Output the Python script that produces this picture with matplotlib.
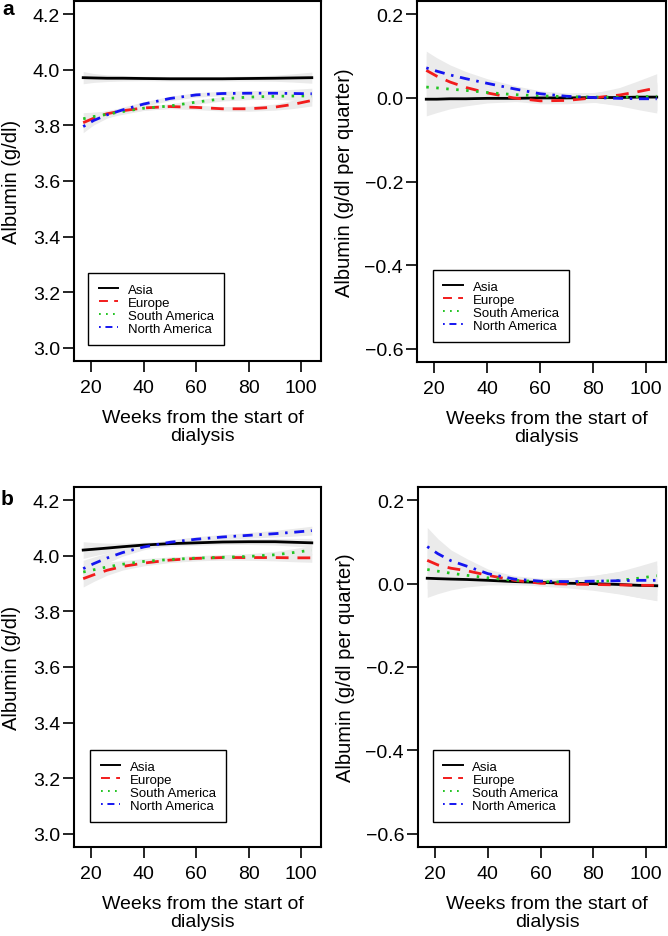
import numpy as np
import matplotlib
matplotlib.use("Agg")
import matplotlib.pyplot as plt
from matplotlib.lines import Line2D

plt.rcParams['font.family'] = ['Liberation Sans', 'DejaVu Sans']

weeks = [17, 21, 26, 32, 40, 50, 60, 70, 80, 90, 97, 104]
regions = ["Asia", "Europe", "South America", "North America"]

# panel a, albumin level (g/dl)
a_level_asia = [3.972, 3.971, 3.970, 3.970, 3.969, 3.968, 3.968, 3.968, 3.969, 3.970, 3.971, 3.972]
a_level_europe = [3.810, 3.826, 3.842, 3.853, 3.863, 3.868, 3.865, 3.860, 3.860, 3.866, 3.876, 3.890]
a_level_samerica = [3.824, 3.832, 3.840, 3.850, 3.862, 3.870, 3.884, 3.896, 3.902, 3.905, 3.906, 3.906]
a_level_namerica = [3.796, 3.818, 3.838, 3.856, 3.877, 3.897, 3.910, 3.915, 3.916, 3.916, 3.915, 3.914]
a_level_ci = [0.022, 0.016, 0.012, 0.010, 0.008, 0.008, 0.008, 0.008, 0.009, 0.011, 0.015, 0.020]

# panel a, albumin slope (g/dl per quarter)
a_slope_asia = [-0.003, -0.003, -0.002, -0.002, -0.001, -0.001, 0.000, 0.000, 0.001, 0.001, 0.002, 0.002]
a_slope_europe = [0.066, 0.052, 0.038, 0.025, 0.012, 0.000, -0.007, -0.006, 0.000, 0.007, 0.015, 0.024]
a_slope_samerica = [0.026, 0.024, 0.021, 0.018, 0.013, 0.008, 0.005, 0.003, 0.002, 0.002, 0.003, 0.004]
a_slope_namerica = [0.072, 0.064, 0.055, 0.046, 0.035, 0.022, 0.010, 0.004, 0.001, -0.001, -0.002, -0.002]
a_slope_ci = [0.040, 0.032, 0.024, 0.017, 0.011, 0.008, 0.007, 0.008, 0.011, 0.018, 0.026, 0.034]

# panel b, albumin level (g/dl)
b_level_asia = [4.021, 4.024, 4.028, 4.033, 4.039, 4.044, 4.047, 4.050, 4.051, 4.051, 4.049, 4.047]
b_level_europe = [3.918, 3.932, 3.948, 3.962, 3.974, 3.985, 3.991, 3.994, 3.994, 3.994, 3.993, 3.993]
b_level_samerica = [3.942, 3.950, 3.960, 3.970, 3.980, 3.987, 3.992, 3.995, 3.998, 4.004, 4.012, 4.021]
b_level_namerica = [3.954, 3.972, 3.992, 4.012, 4.032, 4.049, 4.060, 4.068, 4.074, 4.080, 4.085, 4.091]
b_level_ci = [0.030, 0.024, 0.018, 0.013, 0.010, 0.009, 0.009, 0.009, 0.010, 0.012, 0.014, 0.016]

# panel b, albumin slope (g/dl per quarter)
b_slope_asia = [0.013, 0.012, 0.011, 0.010, 0.008, 0.005, 0.003, 0.001, 0.000, -0.002, -0.004, -0.005]
b_slope_europe = [0.056, 0.045, 0.037, 0.031, 0.020, 0.008, 0.001, -0.001, -0.002, -0.003, -0.004, -0.004]
b_slope_samerica = [0.034, 0.030, 0.025, 0.020, 0.014, 0.008, 0.005, 0.004, 0.005, 0.008, 0.013, 0.019]
b_slope_namerica = [0.089, 0.072, 0.055, 0.042, 0.024, 0.011, 0.006, 0.005, 0.006, 0.007, 0.008, 0.008]
b_slope_ci = [0.046, 0.036, 0.026, 0.018, 0.011, 0.008, 0.007, 0.009, 0.014, 0.022, 0.029, 0.036]

level_ticks = [3.0, 3.2, 3.4, 3.6, 3.8, 4.0, 4.2]
slope_ticks = [-0.6, -0.4, -0.2, 0.0, 0.2]
week_ticks = [20, 40, 60, 80, 100]

# R style lty 1..4
colors = ["black", "#f21c1c", "#22c422", "#1515f0"]
dashes = [None, (4.6, 3.2), (0.9, 2.7), (0.9, 2.4, 3.6, 2.4)]

W, H = 668, 937


def px_axes(left, top, right, bottom):
    return [left / W, 1 - bottom / H, (right - left) / W, (bottom - top) / H]


def draw_panel(ax, series, ci, ylim, yticks, ylabel, label_x, legend_at):
    # grey bands first, so the lines stay on top
    for vals in series:
        lo = np.array(vals) - np.array(ci)
        hi = np.array(vals) + np.array(ci)
        ax.fill_between(weeks, lo, hi, color="#ebebeb", lw=0, zorder=1)
    for vals, c, d in zip(series, colors, dashes):
        ln, = ax.plot(weeks, vals, color=c, lw=2.0, zorder=3)
        if d is not None:
            ln.set_dashes(d)

    ax.set_xlim(13.5, 107.5)
    ax.set_ylim(*ylim)
    ax.set_xticks(week_ticks)
    ax.set_yticks(yticks)
    ax.set_yticklabels(["%.1f" % t if t >= 0 else "\u2212%.1f" % -t for t in yticks])
    ax.tick_params(axis="both", direction="out", length=8, width=1.2, labelsize=14)
    ax.tick_params(axis="y", pad=2)
    ax.tick_params(axis="x", pad=5)
    for sp in ax.spines.values():
        sp.set_linewidth(1.5)

    ax.set_xlabel("Weeks from the start of\ndialysis", fontsize=14, linespacing=1.1, va="top")
    ax.xaxis.set_label_coords(0.52, -0.133)
    ax.set_ylabel(ylabel, fontsize=14.5)
    ax.yaxis.set_label_coords(label_x, 0.5)

    handles = []
    for c, d in zip(colors, dashes):
        h = Line2D([0], [0], color=c, lw=1.4)
        if d is not None:
            h.set_dashes(d)
        handles.append(h)
    leg = ax.legend(handles, regions, loc="lower left", bbox_to_anchor=legend_at,
                    borderaxespad=0, fontsize=9.5, handlelength=1.5, handletextpad=0.7,
                    labelspacing=0.05, borderpad=0.8, fancybox=False, framealpha=1)
    leg.get_frame().set_edgecolor("black")
    leg.get_frame().set_linewidth(1.0)


fig = plt.figure(figsize=(W / 100, H / 100), dpi=100)

ax1 = fig.add_axes(px_axes(74, 2, 321, 362))
draw_panel(ax1, [a_level_asia, a_level_europe, a_level_samerica, a_level_namerica], a_level_ci,
           (2.952, 4.248), level_ticks, "Albumin (g/dl)", -0.215, (0.057, 0.044))

ax2 = fig.add_axes(px_axes(417, 2, 666, 363))
draw_panel(ax2, [a_slope_asia, a_slope_europe, a_slope_samerica, a_slope_namerica], a_slope_ci,
           (-0.632, 0.232), slope_ticks, "Albumin (g/dl per quarter)", -0.255, (0.064, 0.055))

ax3 = fig.add_axes(px_axes(74, 488, 321, 848))
draw_panel(ax3, [b_level_asia, b_level_europe, b_level_samerica, b_level_namerica], b_level_ci,
           (2.952, 4.248), level_ticks, "Albumin (g/dl)", -0.215, (0.065, 0.069))

ax4 = fig.add_axes(px_axes(418, 488, 666, 848))
draw_panel(ax4, [b_slope_asia, b_slope_europe, b_slope_samerica, b_slope_namerica], b_slope_ci,
           (-0.632, 0.232), slope_ticks, "Albumin (g/dl per quarter)", -0.255, (0.06, 0.069))

fig.text(2 / W, 1 - 15 / H, "a", fontsize=15, weight="bold", va="baseline")
fig.text(1 / W, 1 - 505 / H, "b", fontsize=15, weight="bold", va="baseline")

fig.savefig("out.png", dpi=100)
